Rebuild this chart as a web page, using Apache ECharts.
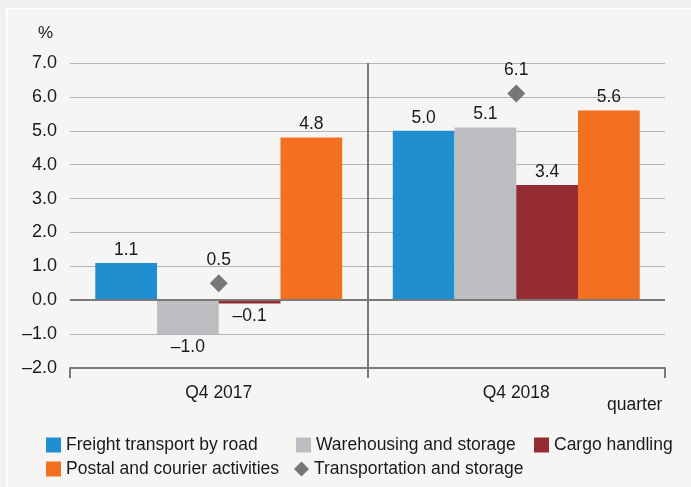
<!DOCTYPE html>
<html>
<head>
<meta charset="utf-8">
<script src="https://cdn.jsdelivr.net/npm/echarts@6/dist/echarts.min.js"></script>
<style>
  html, body { margin: 0; padding: 0; background: #f1f0ee; }
  #chart { width: 691px; height: 487px; }
</style>
</head>
<body>
<div id="chart"></div>
<script>
// 数据
var categories = ['Q4 2017', 'Q4 2018'];
var freightRoad = [1.1, 5.0];
var warehousing = [-1.0, 5.1];
var cargoHandling = [-0.1, 3.4];
var postalCourier = [4.8, 5.6];
var transportStorage = [0.5, 6.1];

var FONT = "'Liberation Sans', Arial, sans-serif";
var TXT = '#1a1a1a';

function fmt(v) {
    var s = Math.abs(v).toFixed(1);
    return v < 0 ? '\u2013' + s : s;
}

// 负值标签放在柱子下方
function barData(arr) {
    return arr.map(function(v) {
        return {
            value: v,
            label: { position: v < 0 ? 'bottom' : 'top' }
        };
    });
}

function barSeries(name, arr, color) {
    return {
        name: name,
        type: 'bar',
        data: barData(arr),
        barGap: '0%',
        barCategoryGap: '17%',
        itemStyle: { color: color },
        label: {
            show: true,
            color: TXT,
            fontFamily: FONT,
            fontSize: 17.5,
            distance: 4,
            formatter: function(p) { return fmt(p.value); }
        }
    };
}

// 单项图例
function legendItem(name, icon, left, top) {
    return {
        left: left,
        top: top,
        padding: 0,
        itemWidth: 15,
        itemHeight: 15,
        selectedMode: false,
        textStyle: { fontFamily: FONT, fontSize: 17.5, color: TXT },
        data: [{ name: name, icon: icon }]
    };
}

var myChart = echarts.init(document.getElementById('chart'));
var option = {
    backgroundColor: '#f1f0ee',
    animation: false,
    textStyle: { fontFamily: FONT },
    graphic: [{
        type: 'rect',
        left: 6,
        top: 8,
        shape: { width: 700, height: 500 },
        style: { fill: '#f6f5f3', stroke: '#ffffff', lineWidth: 1.5 },
        z: -10
    }, {
        type: 'text',
        left: 38,
        top: 25,
        style: { text: '%', font: '17px ' + FONT, fill: TXT }
    }, {
        type: 'text',
        left: 607,
        top: 396,
        style: { text: 'quarter', font: '17.5px ' + FONT, fill: TXT }
    }],
    grid: {
        left: 70,
        right: 26,
        top: 63,
        bottom: 119
    },
    legend: [
        legendItem('Freight transport by road', 'rect', 46, 436),
        legendItem('Warehousing and storage', 'rect', 296, 436),
        legendItem('Cargo handling', 'rect', 534, 436),
        legendItem('Postal and courier activities', 'rect', 46, 460),
        legendItem('Transportation and storage', 'diamond', 294, 460)
    ],
    xAxis: {
        type: 'category',
        data: categories,
        position: 'bottom',
        axisLine: { onZero: false, lineStyle: { color: '#7a7a7a', width: 2 } },
        axisTick: { show: true, length: 10, lineStyle: { color: '#7a7a7a', width: 2 } },
        axisLabel: { color: TXT, fontFamily: FONT, fontSize: 17.5, margin: 16 },
        splitLine: {
            show: true,
            showMinLine: false,
            showMaxLine: false,
            lineStyle: { color: '#7a7a7a', width: 2 }
        }
    },
    yAxis: {
        type: 'value',
        min: -2,
        max: 7,
        interval: 1,
        axisLine: { show: false },
        axisTick: { show: false },
        axisLabel: {
            color: TXT,
            fontFamily: FONT,
            fontSize: 18,
            margin: 13,
            formatter: function(v) { return fmt(v); }
        },
        splitLine: { lineStyle: { color: '#b4b4b4', width: 1 } }
    },
    series: [
        barSeries('Freight transport by road', freightRoad, '#1f8fcf'),
        barSeries('Warehousing and storage', warehousing, '#bcbdc0'),
        barSeries('Cargo handling', cargoHandling, '#952c33'),
        barSeries('Postal and courier activities', postalCourier, '#f37021'),
        {
            name: 'Transportation and storage',
            type: 'scatter',
            data: transportStorage,
            symbol: 'diamond',
            symbolSize: [18, 18],
            itemStyle: { color: '#77777a', opacity: 1 },
            z: 5,
            label: {
                show: true,
                position: 'top',
                distance: 5,
                color: TXT,
                fontFamily: FONT,
                fontSize: 17.5,
                formatter: function(p) { return fmt(p.value); }
            },
            markLine: {
                silent: true,
                symbol: 'none',
                label: { show: false },
                lineStyle: { color: '#7a7a7a', width: 2, type: 'solid' },
                data: [{ yAxis: 0 }]
            }
        }
    ]
};
myChart.setOption(option);
window.addEventListener('resize', function() {
    myChart.resize();
});
</script>
</body>
</html>
